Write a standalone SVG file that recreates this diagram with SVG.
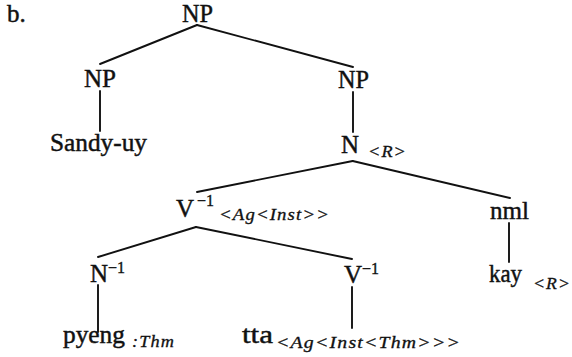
<svg xmlns="http://www.w3.org/2000/svg" width="572" height="357" viewBox="0 0 572 357">
<style>
text{font-family:"Liberation Serif","Times New Roman",serif;fill:#111;stroke:#111}
.m{font-size:25px;stroke-width:0.45}
.sup{font-size:16px;stroke-width:0.35}
.sub{font-size:16px;font-style:italic;letter-spacing:1px;stroke-width:0.3}
#edges line{stroke:#111;stroke-width:1.9;stroke-linecap:round}
</style>
<rect width="572" height="357" fill="#fff"/>
<text class="m" x="7" y="22">b.</text>
<g id="edges">
<line x1="197" y1="25" x2="100" y2="64"/>
<line x1="197" y1="25" x2="353" y2="67"/>
<line x1="100" y1="91" x2="100" y2="131"/>
<line x1="353" y1="92" x2="353" y2="132"/>
<line x1="352.7" y1="161" x2="197" y2="192"/>
<line x1="352.7" y1="161" x2="510" y2="198"/>
<line x1="196" y1="227" x2="98" y2="257"/>
<line x1="196" y1="227" x2="352" y2="259"/>
<line x1="98" y1="285" x2="98" y2="332"/>
<line x1="352" y1="287" x2="352" y2="328"/>
<line x1="509" y1="223" x2="509" y2="262"/>
</g>
<g id="np-root"><text class="m" x="182" y="22" textLength="31" lengthAdjust="spacingAndGlyphs">NP</text></g>
<g id="np-left"><text class="m" x="84" y="87" textLength="32" lengthAdjust="spacingAndGlyphs">NP</text></g>
<g id="sandy"><text class="m" x="50" y="151" textLength="97" lengthAdjust="spacingAndGlyphs">Sandy-uy</text></g>
<g id="np-right"><text class="m" x="338" y="88" textLength="31" lengthAdjust="spacingAndGlyphs">NP</text></g>
<g id="n-r"><text class="m" x="341" y="153">N</text><text class="sub" x="368" y="157" textLength="39" lengthAdjust="spacingAndGlyphs">&lt;R&gt;</text></g>
<g id="v-top"><text class="m" x="176" y="217">V</text><text class="sup" x="197" y="206">−1</text><text class="sub" x="219" y="220" textLength="111" lengthAdjust="spacingAndGlyphs">&lt;Ag&lt;Inst&gt;&gt;</text></g>
<g id="n-inv"><text class="m" x="90" y="282">N</text><text class="sup" x="108" y="273">−1</text></g>
<g id="pyeng"><text class="m" x="63" y="343" textLength="62" lengthAdjust="spacingAndGlyphs">pyeng</text><text class="sub" x="132" y="347" textLength="43" lengthAdjust="spacingAndGlyphs">:Thm</text></g>
<g id="v-inv"><text class="m" x="344" y="283">V</text><text class="sup" x="362" y="274">−1</text></g>
<g id="tta"><text class="m" x="242" y="343" style="font-size:26px" textLength="31" lengthAdjust="spacingAndGlyphs">tta</text><text class="sub" x="276" y="348" textLength="185" lengthAdjust="spacingAndGlyphs">&lt;Ag&lt;Inst&lt;Thm&gt;&gt;&gt;</text></g>
<g id="nml"><text class="m" x="490" y="219" textLength="39" lengthAdjust="spacingAndGlyphs">nml</text></g>
<g id="kay"><text class="m" x="489" y="282" textLength="33" lengthAdjust="spacingAndGlyphs">kay</text><text class="sub" x="533" y="289" textLength="38" lengthAdjust="spacingAndGlyphs">&lt;R&gt;</text></g>
</svg>
